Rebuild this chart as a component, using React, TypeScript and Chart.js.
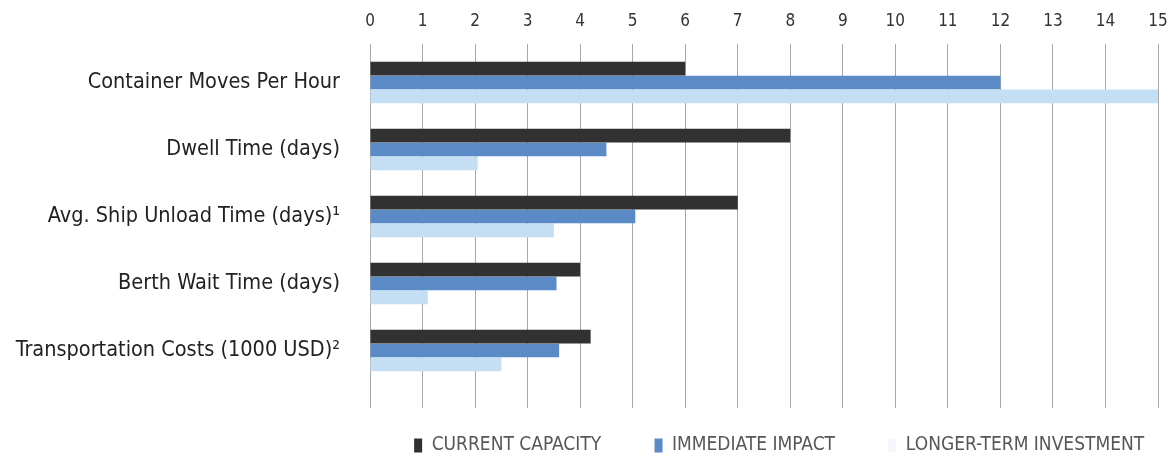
import React, { useEffect, useRef } from "react";
import { Chart, registerables } from "chart.js";

Chart.register(...registerables);

const categories = [
  "Container Moves Per Hour",
  "Dwell Time (days)",
  "Avg. Ship Unload Time (days)\u00b9",
  "Berth Wait Time (days)",
  "Transportation Costs (1000 USD)\u00b2",
];
const currentCapacity = [6, 8, 7, 4, 4.2];
const immediateImpact = [12, 4.5, 5.05, 3.55, 3.6];
const longerTermInvestment = [15, 2.05, 3.5, 1.1, 2.5];
const seriesNames = ["CURRENT CAPACITY", "IMMEDIATE IMPACT", "LONGER-TERM INVESTMENT"];
const seriesColors = ["#313131", "#5a8bc6", "#c4def3"];
const legendBoxColors = ["#313131", "#5a8bc6", "#f4f8fc"];
const xMin = 0;
const xMax = 15;

const FONT = "'Liberation Sans Narrow', 'DejaVu Sans Condensed', sans-serif";

export default function App() {
  const ref = useRef<HTMLCanvasElement>(null);
  useEffect(() => {
    document.body.style.margin = "0";
    const ctx = ref.current!;
    const chart = new Chart(ctx, {
      type: "bar",
      data: {
        labels: categories,
        datasets: seriesNames.map((name, i) => ({
          label: name,
          data: [currentCapacity, immediateImpact, longerTermInvestment][i],
          backgroundColor: seriesColors[i],
          xAxisID: "x",
        })),
      },
      options: {
        indexAxis: "y",
        animation: false,
        responsive: false,
        maintainAspectRatio: false,
        layout: { padding: { left: 0, right: 0, top: 0, bottom: 0 } },
        datasets: { bar: { categoryPercentage: 0.62, barPercentage: 0.98 } },
        scales: {
          x: {
            position: "top",
            min: xMin,
            max: xMax,
            border: { display: false },
            grid: { color: "#a8a8a8", lineWidth: 1, tickLength: 5, drawTicks: true },
            ticks: { stepSize: 1, color: "#333", font: { family: FONT, size: 17 }, padding: 12 },
            afterFit: (s: any) => { s.height = 49; s.paddingRight = 11; s.paddingLeft = 0; },
          },
          x2: {
            position: "bottom",
            type: "linear",
            min: xMin,
            max: xMax,
            border: { display: false },
            grid: { color: "#a8a8a8", lineWidth: 1, tickLength: 24, drawOnChartArea: false },
            ticks: { stepSize: 1, display: false },
            afterFit: (s: any) => { s.height = 40; s.paddingRight = 0; s.paddingLeft = 0; },
          },
          y: {
            border: { display: false },
            grid: { display: false },
            ticks: { color: "#222", font: { family: FONT, size: 21.5 }, padding: 22 },
            afterFit: (s: any) => { s.width = 370; },
          },
        },
        plugins: {
          tooltip: { enabled: false },
          legend: {
            position: "bottom",
            align: "end",
            labels: {
              color: "#575757",
              font: { family: FONT, size: 19 },
              boxWidth: 8,
              boxHeight: 14,
              padding: 12,
              generateLabels: (c: any) =>
                c.data.datasets.map((ds: any, i: number) => ({
                  text: ds.label + (i < 2 ? "\u2003\u2003\u2005\u2006" : "\u2002\u2005"),
                  fillStyle: legendBoxColors[i],
                  strokeStyle: legendBoxColors[i],
                  lineWidth: 0,
                  fontColor: "#575757",
                  hidden: false,
                  datasetIndex: i,
                })),
            },
          },
        },
      },
    });
    return () => chart.destroy();
  }, []);
  return <canvas ref={ref} width={1169} height={465} style={{ display: "block" }} />;
}
